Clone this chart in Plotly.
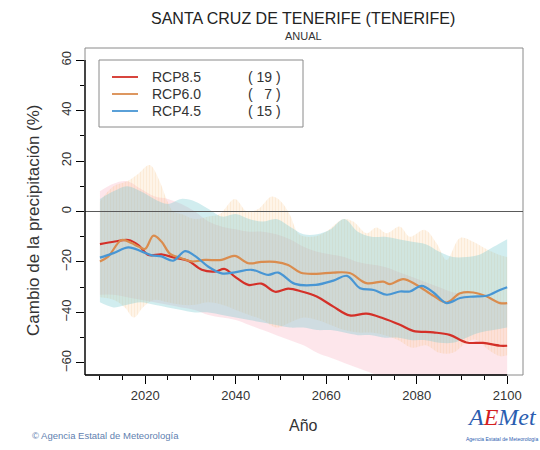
import plotly.graph_objects as go

# ---------------- data ----------------
red_years = [2010, 2013.3, 2016.3, 2018.5, 2020.7, 2023.6, 2026.5, 2029.5, 2032.5, 2035.4,
             2037.6, 2039.8, 2042.8, 2045.7, 2048.7, 2051.6, 2054.6, 2057.9, 2061.6, 2065.2,
             2068.9, 2072.6, 2076.3, 2079.2, 2083.7, 2087.3, 2091, 2094.7, 2098.4, 2100]
red_vals = [-12.9, -11.9, -11.3, -13.3, -17.2, -17.0, -18.3, -19.5, -23.1, -23.8,
            -22.8, -25.8, -29.1, -28.6, -31.8, -30.6, -31.7, -33.7, -37.7, -41.2,
            -40.5, -42.3, -44.9, -47.3, -47.9, -48.9, -51.9, -52.1, -53.2, -53.2]

orange_years = [2010, 2011.8, 2014.8, 2017, 2018.5, 2020, 2021.8, 2023.6, 2025.5, 2028,
                2030.3, 2033.2, 2036.9, 2039.8, 2042.8, 2045.7, 2048.7, 2051.6, 2054.4, 2057.9,
                2061.6, 2065.2, 2068.9, 2072.6, 2074.1, 2077, 2080, 2083.7, 2086.6, 2089.6,
                2092.5, 2095.5, 2098.4, 2100]
orange_vals = [-19.8, -17.9, -11.3, -12.5, -13.9, -14.8, -9.6, -11.9, -16.8, -18.5,
               -19.8, -19.2, -19.2, -17.6, -20.5, -20.0, -20.0, -21.2, -24.3, -24.7,
               -24.2, -24.4, -28.4, -27.8, -28.8, -26.8, -29.1, -33.4, -36.1, -32.4,
               -32.1, -33.7, -36.3, -36.3]

blue_years = [2010, 2013, 2016.3, 2019.3, 2021.5, 2023.6, 2026.2, 2028.8, 2031, 2033.9,
              2036.9, 2039.8, 2043.5, 2047.2, 2049.4, 2053.1, 2057.7, 2061.6, 2064.6, 2067.5,
              2070.5, 2073.4, 2076.3, 2078.5, 2081.1, 2083.7, 2086.6, 2089.6, 2092.5, 2095.5,
              2098.4, 2100]
blue_vals = [-18.3, -16.5, -14.2, -15.9, -17.4, -17.8, -19.5, -15.7, -17.6, -21.8,
             -24.5, -24.1, -23.1, -25.1, -24.2, -28.7, -29.1, -27.4, -25.5, -30.4,
             -31.1, -33.0, -31.7, -31.7, -29.5, -32.1, -36.3, -34.3, -33.7, -33.4,
             -31.1, -30.0]

band_years = [2010, 2013, 2016, 2019, 2022, 2025, 2028, 2031, 2034, 2037, 2040, 2043, 2046,
              2049, 2052, 2055, 2058, 2061, 2064, 2067, 2070, 2073, 2076, 2079, 2082, 2085,
              2088, 2091, 2094, 2097, 2100]
red_upper = [8, 11, 12, 9, 6, 5, 3, 0, -4, -6, -7, -8, -8, -9, -11, -14, -16, -17, -18,
             -20, -21, -22, -24, -26, -28, -30, -32, -33, -34, -35, -36]
red_lower = [-33, -33, -34, -35, -36, -37, -38, -39, -41, -42, -43, -45, -47, -49, -51, -53,
             -56, -58, -60, -62, -64, -66, -68, -70, -71, -72, -73, -74, -75, -75, -75]
blue_upper = [5, 8, 10, 8, 5, 3, 5, 4, 1, -2, -1, -3, -4, -3, -6, -9, -9, -7, -3, -8, -10,
              -10, -11, -12, -13, -16, -18, -18, -17, -14, -11]
blue_lower = [-36, -38, -37, -36, -37, -38, -39, -40, -40, -41, -42, -43, -44, -45, -46, -46,
              -47, -47, -48, -49, -49, -50, -50, -51, -51, -52, -52, -50, -48, -47, -46]

orange_up_years = [2010, 2013, 2016, 2018.5, 2021, 2023.2, 2024.7, 2026.2, 2028, 2031, 2034,
                   2036.5, 2039.8, 2042.5, 2045, 2048, 2050, 2052, 2054, 2057, 2060, 2063.8,
                   2066, 2068.9, 2071.1, 2073.4, 2076.3, 2078.5, 2081.8, 2084.4, 2086.6,
                   2089.6, 2092.5, 2095.5, 2098, 2100]
orange_upper = [4, 10, 12, 15, 18.4, 12, 5, 0, -1, -3, -2, -1, 5, 0, 1, 5.9, 4, -1.4, -9,
                -10, -8, -3, -4, -8.6, -6.3, -8.6, -6, -10, -7.3, -12.6, -19.2, -10.5, -12,
                -15, -17, -18]
orange_low_years = [2010, 2013, 2015.5, 2017.5, 2019.5, 2022, 2025, 2028, 2031, 2034, 2037,
                    2040, 2043, 2046, 2049, 2052, 2055, 2058, 2061, 2064, 2067, 2070, 2073,
                    2076, 2079, 2082, 2085, 2088, 2091, 2093, 2096, 2098.5, 2100]
orange_lower = [-34, -35, -38, -42, -38, -35, -36, -37, -37, -36, -37, -39, -41, -43, -46,
                -44, -42, -43, -45, -47, -48, -48, -49, -51, -54, -53, -56, -56, -52, -50.8,
                -55, -57.4, -57]

legend_names = ["RCP8.5", "RCP6.0", "RCP4.5"]
legend_counts = ["( 19 )", "(\u2007 7 )", "( 15 )"]
x_ticks = [2020, 2040, 2060, 2080, 2100]
y_ticks = [-60, -40, -20, 0, 20, 40, 60]

# ---------------- styling ----------------
RED = "rgb(212,48,40)"
ORANGE = "rgb(218,140,78)"
BLUE = "rgb(72,150,212)"
FONT = "Liberation Sans, Arial, Helvetica, sans-serif"

W, H = 540, 450
L, R, T, B = 85, 523, 48, 375


def px(x):
    return (x - L) / (R - L)


def py(y):
    return (B - y) / (B - T)


fig = go.Figure()


def band(xl, yl, xu, yu, fill, pattern=None):
    fig.add_trace(go.Scatter(x=xl, y=yl, mode="lines", line=dict(width=0, shape="spline"),
                             hoverinfo="skip", showlegend=False))
    kw = dict(fillpattern=pattern) if pattern else {}
    fig.add_trace(go.Scatter(x=xu, y=yu, mode="lines", line=dict(width=0, shape="spline"),
                             fill="tonexty", fillcolor=fill, hoverinfo="skip",
                             showlegend=False, **kw))


band(band_years, red_lower, band_years, red_upper, "rgba(248,140,165,0.22)")
band(orange_low_years, orange_lower, orange_up_years, orange_upper, "rgba(250,175,100,0.22)",
     pattern=dict(shape="|", size=3, solidity=0.3, fgcolor="rgba(240,165,90,0.26)",
                  bgcolor="rgba(252,192,128,0.18)"))
band(band_years, blue_lower, band_years, blue_upper, "rgba(115,200,205,0.33)")

for xs, ys, c in [(red_years, red_vals, RED), (orange_years, orange_vals, ORANGE),
                  (blue_years, blue_vals, BLUE)]:
    fig.add_trace(go.Scatter(x=xs, y=ys, mode="lines", line=dict(color=c, width=2.2, shape="spline"),
                             hoverinfo="skip", showlegend=False))

shapes = [
    # plot box
    dict(type="rect", xref="paper", yref="paper", x0=0, x1=1, y0=0, y1=1,
         line=dict(color="#8a8a8a", width=1)),
    # zero line
    dict(type="line", xref="paper", yref="y", x0=0, x1=1, y0=0, y1=0,
         line=dict(color="#5a5a5a", width=1.2)),
    # axis lines
    dict(type="line", xref="x", yref="paper", x0=2006.7, x1=2100, y0=0, y1=0,
         line=dict(color="black", width=1.3)),
    dict(type="line", xref="paper", yref="y", x0=0, x1=0, y0=-64.8, y1=60,
         line=dict(color="black", width=1.3)),
    # legend box
    dict(type="rect", xref="paper", yref="paper", x0=px(99), x1=px(303), y0=py(127), y1=py(60),
         line=dict(color="#8a8a8a", width=1), fillcolor="white"),
]
annotations = []
leg_y = [77, 94, 111]
for name, cnt, c, yy in zip(legend_names, legend_counts, [RED, ORANGE, BLUE], leg_y):
    shapes.append(dict(type="line", xref="paper", yref="paper", x0=px(112), x1=px(138),
                       y0=py(yy), y1=py(yy), line=dict(color=c, width=1.8)))
    annotations.append(dict(xref="paper", yref="paper", x=px(150), y=py(yy), text=name,
                            showarrow=False, xanchor="left", yanchor="middle",
                            font=dict(family=FONT, size=14, color="#333")))
    annotations.append(dict(xref="paper", yref="paper", x=px(283), y=py(yy), text=cnt,
                            showarrow=False, xanchor="right", yanchor="middle",
                            font=dict(family=FONT, size=14, color="#333")))

annotations += [
    dict(xref="paper", yref="paper", x=px(303), y=py(18), text="SANTA CRUZ DE TENERIFE (TENERIFE)",
         showarrow=False, xanchor="center", yanchor="middle", font=dict(family=FONT, size=16, color="#222")),
    dict(xref="paper", yref="paper", x=px(303), y=py(36), text="ANUAL",
         showarrow=False, xanchor="center", yanchor="middle", font=dict(family=FONT, size=11, color="#333")),
    dict(xref="paper", yref="paper", x=px(303), y=py(425), text="Año",
         showarrow=False, xanchor="center", yanchor="middle", font=dict(family=FONT, size=16, color="#333")),
    dict(xref="paper", yref="paper", x=px(33), y=py(220), text="Cambio de la precipitación (%)",
         textangle=-90, showarrow=False, xanchor="center", yanchor="middle",
         font=dict(family=FONT, size=17, color="#333")),
    dict(xref="paper", yref="paper", x=px(30), y=py(435), text="© Agencia Estatal de Meteorología",
         showarrow=False, xanchor="left", yanchor="middle", font=dict(family=FONT, size=9.5, color="#5f7fb0")),
    dict(xref="paper", yref="paper", x=px(502), y=py(417),
         text="<i><span style='color:#2a5db0'>A</span><span style='color:#d42020'>E</span>"
              "<span style='color:#2a5db0'>Met</span></i>",
         showarrow=False, xanchor="center", yanchor="middle",
         font=dict(family="Liberation Serif, Times New Roman, serif", size=24)),
    dict(xref="paper", yref="paper", x=px(502), y=py(439), text="Agencia Estatal de Meteorología",
         showarrow=False, xanchor="center", yanchor="middle", font=dict(family=FONT, size=5, color="#2a5db0")),
]

fig.update_layout(
    width=W, height=H, margin=dict(l=L, r=W - R, t=T, b=H - B),
    paper_bgcolor="white", plot_bgcolor="white", showlegend=False,
    shapes=shapes, annotations=annotations,
    xaxis=dict(range=[2006.7, 2103.5], tickmode="array", tickvals=x_ticks, ticks="outside",
               ticklen=8, tickcolor="black", tickwidth=1.2, showline=False, showgrid=False,
               zeroline=False, tickfont=dict(family=FONT, size=13, color="#333"),
               minor=dict(tickmode="array", tickvals=list(range(2010, 2101, 5)), ticks="outside",
                          ticklen=4, tickcolor="black", tickwidth=1, showgrid=False)),
    yaxis=dict(range=[-64.8, 64.8], tickmode="array", tickvals=y_ticks, ticks="outside",
               ticklen=8, tickcolor="black", tickwidth=1.2, showline=False, showgrid=False,
               zeroline=False, tickangle=-90, tickfont=dict(family=FONT, size=13, color="#333"),
               minor=dict(tickmode="array", tickvals=list(range(-50, 51, 10)), ticks="outside",
                          ticklen=4, tickcolor="black", tickwidth=1, showgrid=False)),
)

fig.write_html("out.html", config={"displayModeBar": False},
               post_script="document.body.style.margin='0';document.body.style.padding='0';")
